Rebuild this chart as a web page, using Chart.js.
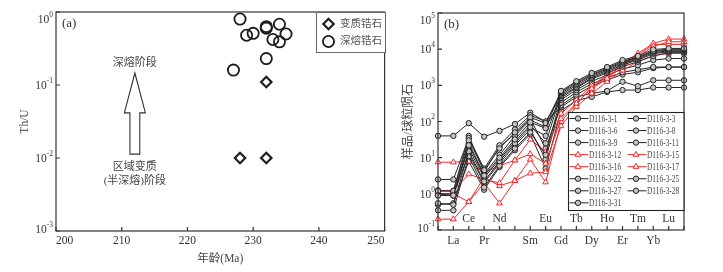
<!DOCTYPE html>
<html>
<head>
<meta charset="utf-8">
<script src="https://cdn.jsdelivr.net/npm/chart.js@4.4.0/dist/chart.umd.min.js"></script>
<style>
body { margin: 0; background: #fff; width: 723px; height: 272px; position: relative; overflow: hidden; }
canvas { position: absolute; top: 0; }
</style>
</head>
<body>
<canvas id="ageChart" width="392" height="272" style="left:0"></canvas>
<canvas id="reeChart" width="331" height="272" style="left:392px"></canvas>
<script>
// ---- panel (a): Th/U against age ----
var meltAge = [228, 229, 230, 232, 232, 234, 235, 233, 234, 232, 227];
var meltThU = [0.80, 0.48, 0.51, 0.63, 0.60, 0.68, 0.50, 0.42, 0.39, 0.23, 0.16];
var metaAge = [232, 228, 232];
var metaThU = [0.11, 0.01, 0.01];
var ageTicks = [200, 210, 220, 230, 240, 250];
var thuTicks = [0.001, 0.01, 0.1, 1];

// ---- panel (b): chondrite normalised REE ----
var reeSlots = ['', 'La', 'Ce', 'Pr', 'Nd', 'Pm', 'Sm', 'Eu', 'Gd', 'Tb', 'Dy', 'Ho', 'Er', 'Tm', 'Yb', 'Lu', ''];
var reeUpper = ['Ce', 'Nd', 'Eu', 'Tb', 'Ho', 'Tm', 'Lu'];
var reeLower = ['La', 'Pr', 'Sm', 'Gd', 'Dy', 'Er', 'Yb'];
var reeTicks = [0.1, 1, 10, 100, 1000, 10000, 100000];

var d116_3_1  = [0.9, 0.9, 22, 3.2, 10, 32, 95, 65, 700, 1300, 2200, 3200, 5000, 6500, 9800, 10500, 10500];
var d116_3_3  = [1.2, 1.2, 30, 4.5, 18, 50, 130, 90, 650, 1200, 2000, 3000, 4600, 6000, 9000, 10000, 10000];
var d116_3_6  = [0.55, 0.5, 15, 2.2, 8, 25, 70, 40, 600, 1100, 1900, 2800, 4300, 5800, 8500, 9500, 9500];
var d116_3_8  = [1.0, 1.0, 18, 2.8, 9, 28, 80, 25, 550, 1000, 1750, 2600, 4000, 5400, 8000, 9000, 9000];
var d116_3_9  = [2.5, 2.5, 35, 5.0, 22, 60, 150, 100, 500, 900, 1600, 2400, 3700, 5000, 7500, 8500, 8500];
var d116_3_11 = [0.35, 0.35, 11, 1.5, 6, 18, 50, 12, 450, 850, 1500, 2200, 3300, 4500, 6500, 8000, 8000];
var d116_3_12 = [7.5, 7.5, 7.9, 3.8, 6.0, 8.5, 12.6, 6.9, 120, 320, 810, 1550, 3250, 6100, 12000, 16000, 16000];
var d116_3_15 = [1.2, 1.2, 3.5, 2.5, 2.0, 8.5, 32, 14.5, 166, 390, 1000, 1900, 4000, 7600, 14500, 19000, 19000];
var d116_3_16 = [1.0, 1.0, 0.6, 2.0, 0.55, 2.3, 3.7, 4.0, 75, 255, 600, 1260, 2600, 4500, 6700, 7600, 7600];
var d116_3_17 = [0.2, 0.2, 0.6, 2.9, 1.65, 2.3, 9.0, 2.1, 98, 300, 900, 1700, 3600, 6800, 13500, 13500, 13500];
var d116_3_22 = [1.0, 0.9, 25, 3.5, 12, 40, 110, 70, 400, 750, 1300, 1900, 2800, 3600, 5000, 5500, 5500];
var d116_3_25 = [0.9, 0.9, 13, 2.0, 7, 22, 60, 9, 330, 650, 1100, 1600, 2300, 2700, 3200, 3200, 3200];
var d116_3_27 = [1.25, 1.2, 40, 4.0, 20, 45, 120, 18, 280, 550, 950, 1400, 2000, 2300, 3000, 3200, 3200];
var d116_3_28 = [40, 40, 90, 38, 55, 85, 175, 98, 250, 480, 600, 700, 1260, 950, 1380, 1380, 1380];
var d116_3_31 = [0.5, 0.55, 8, 1.3, 5.5, 16, 45, 5, 200, 380, 480, 660, 740, 740, 870, 870, 870];

var sampleNames = ['D116-3-1', 'D116-3-3', 'D116-3-6', 'D116-3-8', 'D116-3-9', 'D116-3-11', 'D116-3-12', 'D116-3-15',
  'D116-3-16', 'D116-3-17', 'D116-3-22', 'D116-3-25', 'D116-3-27', 'D116-3-28', 'D116-3-31'];
var sampleValues = [d116_3_1, d116_3_3, d116_3_6, d116_3_8, d116_3_9, d116_3_11, d116_3_12, d116_3_15,
  d116_3_16, d116_3_17, d116_3_22, d116_3_25, d116_3_27, d116_3_28, d116_3_31];
var redSamples = ['D116-3-12', 'D116-3-15', 'D116-3-16', 'D116-3-17'];

var SERIF = '"Liberation Serif", "Noto Sans CJK SC", serif';
var INK = '#333';
var RED = '#f22a2a';

function fixBox(w, h) {
  return function(scale) {
    if (w) scale.width = w;
    if (h) scale.height = h;
    scale.paddingLeft = scale.paddingRight = scale.paddingTop = scale.paddingBottom = 0;
  };
}

function setTicks(list) {
  return function(scale) {
    scale.ticks = list.map(function(v) { return { value: v }; });
  };
}

// box round the plot area with ticks pointing inward
var frameTicks = {
  id: 'frameTicks',
  afterDatasetsDraw: function(chart) {
    var ctx = chart.ctx, a = chart.chartArea, x = chart.scales.x, y = chart.scales.y;
    ctx.save();
    ctx.strokeStyle = INK;
    ctx.lineWidth = 1.2;
    ctx.strokeRect(a.left, a.top, a.right - a.left, a.bottom - a.top);
    ctx.beginPath();
    var xs;
    if (x.type === 'category') {
      xs = x.getLabels().map(function(l, i) { return x.getPixelForValue(i); });
    } else {
      xs = x.ticks.map(function(t) { return x.getPixelForValue(t.value); });
    }
    xs.forEach(function(px) { ctx.moveTo(px, a.bottom); ctx.lineTo(px, a.bottom - 4); });
    y.ticks.forEach(function(t) {
      var py = y.getPixelForValue(t.value);
      ctx.moveTo(a.left, py); ctx.lineTo(a.left + 4, py);
    });
    ctx.stroke();
    ctx.restore();
  }
};

// 10^n labels with a raised exponent
var powerLabels = {
  id: 'powerLabels',
  afterDraw: function(chart) {
    var ctx = chart.ctx, a = chart.chartArea, y = chart.scales.y;
    ctx.save();
    ctx.fillStyle = INK;
    ctx.textBaseline = 'middle';
    ctx.textAlign = 'right';
    y.ticks.forEach(function(t) {
      var e = String(Math.round(Math.log10(t.value)));
      var py = Math.max(a.top + 7, Math.min(a.bottom - 2, y.getPixelForValue(t.value)));
      var ex = a.left - 3;
      ctx.font = '7.5px ' + SERIF;
      ctx.fillText(e, ex, py - 4);
      var w = ctx.measureText(e).width;
      ctx.font = '11.5px ' + SERIF;
      ctx.fillText('10', ex - w, py + 1);
    });
    ctx.restore();
  }
};

function panelTag(text) {
  return {
    id: 'panelTag',
    afterDraw: function(chart) {
      var ctx = chart.ctx, a = chart.chartArea;
      ctx.save();
      ctx.fillStyle = INK;
      ctx.font = '13px ' + SERIF;
      ctx.textBaseline = 'middle';
      ctx.textAlign = 'left';
      ctx.fillText(text, a.left + 6, a.top + 12);
      ctx.restore();
    }
  };
}

// arrow and stage notes of panel (a)
var stageNotes = {
  id: 'stageNotes',
  afterDraw: function(chart) {
    var ctx = chart.ctx, x = chart.scales.x, y = chart.scales.y;
    var cx = x.getPixelForValue(212);
    var shaft = x.getPixelForValue(212.75) - cx;
    var head = x.getPixelForValue(213.6) - cx;
    var tip = y.getPixelForValue(0.146);
    var base = y.getPixelForValue(0.0415);
    var foot = y.getPixelForValue(0.0113);
    ctx.save();
    ctx.strokeStyle = INK;
    ctx.fillStyle = '#fff';
    ctx.lineWidth = 1.1;
    ctx.beginPath();
    ctx.moveTo(cx, tip);
    ctx.lineTo(cx + head, base);
    ctx.lineTo(cx + shaft, base);
    ctx.lineTo(cx + shaft, foot);
    ctx.lineTo(cx - shaft, foot);
    ctx.lineTo(cx - shaft, base);
    ctx.lineTo(cx - head, base);
    ctx.closePath();
    ctx.fill();
    ctx.stroke();
    ctx.fillStyle = '#444';
    ctx.font = '11px ' + SERIF;
    ctx.textAlign = 'center';
    ctx.textBaseline = 'middle';
    ctx.fillText('深熔阶段', cx, y.getPixelForValue(0.2));
    var low = y.getPixelForValue(0.0075);
    ctx.fillText('区域变质', cx, low);
    ctx.fillText('(半深熔)阶段', cx, low + 14);
    ctx.restore();
  }
};

var ageLegend = {
  id: 'ageLegend',
  afterDraw: function(chart) {
    var ctx = chart.ctx;
    ctx.save();
    ctx.fillStyle = '#fff';
    ctx.strokeStyle = '#666';
    ctx.lineWidth = 1;
    ctx.fillRect(316, 12, 70, 41);
    ctx.strokeRect(316.5, 12.5, 69, 40);
    chart.data.datasets.forEach(function(ds, i) {
      var py = 24 + i * 17.5;
      ctx.strokeStyle = ds.borderColor;
      ctx.fillStyle = '#fff';
      ctx.lineWidth = ds.borderWidth;
      Chart.helpers.drawPoint(ctx, { pointStyle: ds.pointStyle, radius: ds.pointRadius, borderWidth: ds.borderWidth, rotation: 0 }, 328.5, py);
      ctx.fillStyle = '#555';
      ctx.font = '10.5px ' + SERIF;
      ctx.textAlign = 'left';
      ctx.textBaseline = 'middle';
      ctx.fillText(ds.label, 340, py);
    });
    ctx.restore();
  }
};

var reeLabels = {
  id: 'reeLabels',
  afterDraw: function(chart) {
    var ctx = chart.ctx, a = chart.chartArea, x = chart.scales.x;
    ctx.save();
    ctx.fillStyle = INK;
    ctx.font = '11.5px ' + SERIF;
    ctx.textAlign = 'center';
    ctx.textBaseline = 'middle';
    reeSlots.forEach(function(el, i) {
      if (!el) return;
      var px = x.getPixelForValue(i);
      if (reeUpper.indexOf(el) >= 0) ctx.fillText(el, px, a.bottom - 11);
      if (reeLower.indexOf(el) >= 0) ctx.fillText(el, px, a.bottom + 11);
    });
    ctx.restore();
  }
};

var reeLegend = {
  id: 'reeLegend',
  afterDraw: function(chart) {
    var ctx = chart.ctx, a = chart.chartArea;
    var left = 176.5, top = 112.5;
    ctx.save();
    ctx.fillStyle = '#fff';
    ctx.fillRect(left, top, a.right - left, 98);
    ctx.strokeStyle = '#222';
    ctx.lineWidth = 1.1;
    ctx.strokeRect(left, top, a.right - left, 98);
    chart.data.datasets.forEach(function(ds, i) {
      var col = i % 2, row = Math.floor(i / 2);
      var x0 = col === 0 ? 177.5 : 235.5;
      var py = 118.5 + row * 12.05;
      ctx.strokeStyle = ds.borderColor;
      ctx.lineWidth = 1;
      ctx.beginPath();
      ctx.moveTo(x0, py);
      ctx.lineTo(x0 + 19, py);
      ctx.stroke();
      ctx.fillStyle = ds.pointBackgroundColor;
      ctx.strokeStyle = ds.pointBorderColor;
      Chart.helpers.drawPoint(ctx, { pointStyle: ds.pointStyle, radius: ds.pointRadius, borderWidth: 1, rotation: 0 }, x0 + 8.5, py);
      ctx.fillStyle = '#444';
      ctx.font = '9.5px ' + SERIF;
      ctx.textAlign = 'left';
      ctx.textBaseline = 'middle';
      ctx.save();
      ctx.translate(x0 + 19.5, py + 0.5);
      ctx.scale(0.78, 1);
      ctx.fillText(ds.label, 0, 0);
      ctx.restore();
    });
    ctx.restore();
  }
};

function toPoints(xs, ys) {
  return xs.map(function(v, i) { return { x: v, y: ys[i] }; });
}

new Chart(document.getElementById('ageChart').getContext('2d'), {
  type: 'scatter',
  data: {
    datasets: [{
      label: '变质锆石',
      data: toPoints(metaAge, metaThU),
      pointStyle: 'rectRot',
      pointRadius: 5.2,
      borderWidth: 2.2,
      borderColor: '#1d1d1d',
      backgroundColor: 'rgba(0,0,0,0)'
    }, {
      label: '深熔锆石',
      data: toPoints(meltAge, meltThU),
      pointStyle: 'circle',
      pointRadius: 5.6,
      borderWidth: 1.8,
      borderColor: '#1d1d1d',
      backgroundColor: 'rgba(0,0,0,0)'
    }]
  },
  options: {
    responsive: false,
    animation: false,
    layout: { padding: { left: 0, top: 12, right: 7, bottom: 0 } },
    plugins: { legend: { display: false }, tooltip: { enabled: false } },
    scales: {
      x: {
        type: 'linear', min: 200, max: 250,
        afterBuildTicks: setTicks(ageTicks),
        afterFit: fixBox(0, 41),
        grid: { display: false, drawTicks: false },
        border: { display: false },
        ticks: { align: 'inner', padding: 3, color: INK, font: { family: SERIF, size: 11.5 } },
        title: { display: true, text: '年龄(Ma)', color: '#444', padding: { top: 0, bottom: 6.5 }, font: { family: SERIF, size: 11.5 } }
      },
      y: {
        type: 'logarithmic', min: 0.001, max: 1,
        afterBuildTicks: setTicks(thuTicks),
        afterFit: fixBox(56, 0),
        grid: { display: false, drawTicks: false },
        border: { display: false },
        ticks: { display: false },
        title: { display: true, text: 'Th/U', color: '#444', padding: { top: 18, bottom: 0 }, font: { family: SERIF, size: 11.5 } }
      }
    }
  },
  plugins: [frameTicks, powerLabels, panelTag('(a)'), stageNotes, ageLegend]
});

new Chart(document.getElementById('reeChart').getContext('2d'), {
  type: 'line',
  data: {
    labels: reeSlots,
    datasets: sampleNames.map(function(name, i) {
      var red = redSamples.indexOf(name) >= 0;
      return {
        label: name,
        data: sampleValues[i],
        borderColor: red ? RED : '#262626',
        borderWidth: 1,
        pointStyle: red ? 'triangle' : 'circle',
        pointRadius: red ? 3.3 : 2.7,
        pointBorderWidth: 1,
        pointBackgroundColor: red ? '#fff' : '#c4c4c4',
        pointBorderColor: red ? RED : '#222',
        tension: 0
      };
    })
  },
  options: {
    responsive: false,
    animation: false,
    layout: { padding: { left: 0, top: 13, right: 39, bottom: 0 } },
    plugins: { legend: { display: false }, tooltip: { enabled: false } },
    scales: {
      x: {
        type: 'category', offset: false,
        afterFit: fixBox(0, 42),
        grid: { display: false, drawTicks: false },
        border: { display: false },
        ticks: { display: false }
      },
      y: {
        type: 'logarithmic', min: 0.1, max: 100000,
        afterBuildTicks: setTicks(reeTicks),
        afterFit: fixBox(46, 0),
        grid: { display: false, drawTicks: false },
        border: { display: false },
        ticks: { display: false },
        title: { display: true, text: '样品/球粒陨石', color: '#444', padding: { top: 10, bottom: 0 }, font: { family: SERIF, size: 12 } }
      }
    }
  },
  plugins: [frameTicks, powerLabels, panelTag('(b)'), reeLabels, reeLegend]
});
</script>
</body>
</html>
